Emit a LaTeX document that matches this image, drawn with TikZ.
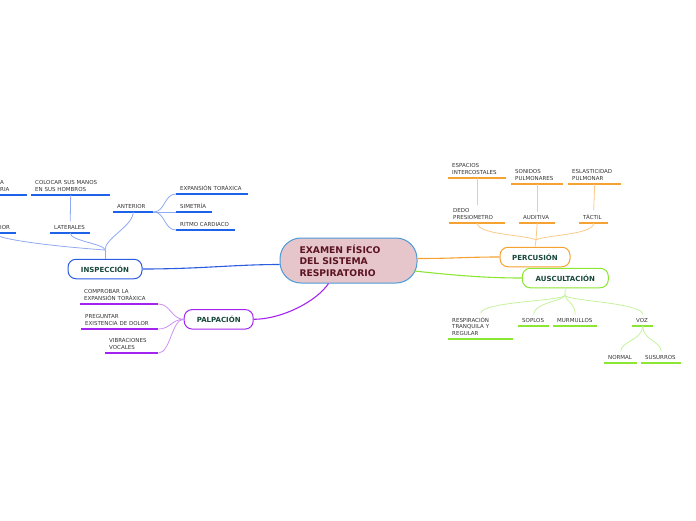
\documentclass[tikz,border=0pt]{standalone}
\usepackage{fontspec}
\setmainfont{DejaVu Sans}
\definecolor{mainblue}{HTML}{2A5CE0}
\definecolor{lineblue}{HTML}{1E62EA}
\definecolor{softblue}{HTML}{8EAAF2}
\definecolor{mainpurple}{HTML}{A324F0}
\definecolor{softpurple}{HTML}{CB92F4}
\definecolor{mainorange}{HTML}{F6A233}
\definecolor{softorange}{HTML}{F9CB8A}
\definecolor{maingreen}{HTML}{8CE634}
\definecolor{softgreen}{HTML}{C6F29E}
\definecolor{rootfill}{HTML}{E6C6CB}
\definecolor{rootline}{HTML}{4B9AD9}
\definecolor{roottext}{HTML}{5B1322}
\definecolor{branchtext}{HTML}{17483B}
\definecolor{leaftext}{HTML}{333333}
\tikzset{
  leaf/.style={anchor=south west, inner xsep=4pt, inner ysep=3.5pt, align=left,
    font=\fontsize{5.5}{6.5}\selectfont, text=leaftext,
    append after command={(\tikzlastnode.south west) edge[draw=#1, line width=1.4pt] (\tikzlastnode.south east)}},
  branch/.style={draw=#1, line width=1pt, fill=white, rounded corners=8pt, minimum height=19.5pt,
    inner xsep=11pt, font=\bfseries\fontsize{7}{8}\selectfont, text=branchtext},
}
\begin{document}
\begin{tikzpicture}[x=1pt, y=-1pt]
  \useasboundingbox (0,0) rectangle (696,520);
  \node[draw=rootline, line width=1pt, fill=rootfill, rounded corners=21pt, text width=98pt, inner xsep=19.5pt,
    minimum height=45pt, align=left, font=\bfseries\fontsize{9.2}{11.3}\selectfont, text=roottext]
    (examen) at (348.5,260.5) {EXAMEN FÍSICO\\DEL SISTEMA\\RESPIRATORIO};
  \node[branch=mainblue, minimum width=74pt] (insp) at (105,269) {INSPECCIÓN};
  \node[branch=mainpurple, minimum width=69pt] (palp) at (218.7,319.3) {PALPACIÓN};
  \node[branch=mainorange, minimum width=70pt] (perc) at (535,257) {PERCUSIÓN};
  \node[branch=maingreen, minimum width=86pt] (ausc) at (565.3,278) {AUSCULTACIÓN};

  \foreach \n/\x/\y/\w/\t in {fragA/-4/195/23/{A\\RIA}, posterior/-4/233/12/{IOR},
      colocar/31/195/71/{COLOCAR~SUS~MANOS\\EN~SUS~HOMBROS}, laterales/50/233/32/{LATERALES},
      anterior/113/212/32/{ANTERIOR}, expansion/176/194/64/{EXPANSIÓN~TORÁXICA},
      simetria/176/212/28/{SIMETRÍA}, ritmo/176/230/51/{RITMO~CARDIACO}} {
    \node[leaf=lineblue, text width=\w pt] (\n) at (\x,\y) {\t};
  }
  \foreach \n/\x/\y/\w/\t in {comprobar/80/304/70/{COMPROBAR~LA\\EXPANSIÓN~TORÁXICA},
      preguntar/81/329/69/{PREGUNTAR\\EXISTENCIA~DE~DOLOR}, vibraciones/105/353/45/{VIBRACIONES\\VOCALES}} {
    \node[leaf=mainpurple, text width=\w pt] (\n) at (\x,\y) {\t};
  }
  \foreach \n/\x/\y/\w/\t in {espacios/448/178/50/{ESPACIOS\\INTERCOSTALES},
      sonidos/511/184/44/{SONIDOS\\PULMONARES}, eslasticidad/568/184/45/{ESLASTICIDAD\\PULMONAR},
      dedo/449/223/48/{DEDO\\PRESIOMETRO}, auditiva/519/223/28/{AUDITIVA}, tactil/579/223/21/{TÁCTIL}} {
    \node[leaf=mainorange, text width=\w pt] (\n) at (\x,\y) {\t};
  }
  \foreach \n/\x/\y/\w/\t in {respiracion/448/339/57/{RESPIRACIÓN\\TRANQUILA~Y\\REGULAR},
      soplos/518/326/23/{SOPLOS}, murmullos/553/326/36/{MURMULLOS}, voz/632/326/13/{VOZ},
      normal/604/363/25/{NORMAL}, susurros/641/363/32/{SUSURROS}} {
    \node[leaf=maingreen, text width=\w pt] (\n) at (\x,\y) {\t};
  }

  \draw[mainblue, line width=1.1pt] (insp.east) .. controls (200,269) and (235,264.5) .. ([yshift=-4pt]examen.west);
  \draw[mainpurple, line width=1.1pt] (palp.east) .. controls +(28,0) and +(-12,18) .. ([xshift=-20pt]examen.south);
  \draw[mainorange, line width=1.1pt] ([yshift=2pt]examen.east) .. controls (455,258.5) and (465,257) .. (perc.west);
  \draw[maingreen, line width=1.1pt] ([shift={(-3pt,-10.5pt)}]examen.east) .. controls (460,276) and (490,278) .. (ausc.west);

  \coordinate (ijoin) at (105,250);
  \draw[softblue, line width=0.8pt] (colocar.south) -- (laterales.north);
  \draw[softblue, line width=0.8pt] (anterior.south) .. controls +(0,14) and +(0,-12) .. (ijoin);
  \draw[softblue, line width=0.8pt] (laterales.south) .. controls +(0,8) and +(0,-6) .. (ijoin);
  \draw[softblue, line width=0.8pt] ([xshift=-12pt]posterior.south) .. controls +(0,6) and (50,246) .. (ijoin);
  \draw[softblue, line width=0.8pt] (ijoin) -- (insp.north);
  \foreach \c in {expansion, simetria, ritmo}
    \draw[softblue, line width=0.8pt] (anterior.south east) .. controls +(12,0) and +(-12,0) .. (\c.south west);

  \foreach \c in {comprobar, preguntar, vibraciones}
    \draw[softpurple, line width=0.8pt] (palp.west) .. controls +(-12,0) and +(12,0) .. (\c.south east);

  \coordinate (pjoin) at (536,240);
  \draw[softorange, line width=0.8pt] (espacios.south) -- (dedo.north);
  \draw[softorange, line width=0.8pt] (sonidos.south) -- (auditiva.north);
  \draw[softorange, line width=0.8pt] (eslasticidad.south) -- (tactil.north);
  \draw[softorange, line width=0.8pt] (dedo.south) .. controls +(0,12) and +(-8,-5) .. (pjoin);
  \draw[softorange, line width=0.8pt] (tactil.south) .. controls +(0,12) and +(8,-5) .. (pjoin);
  \draw[softorange, line width=0.8pt] (auditiva.south) -- (pjoin) -- (perc.north);

  \coordinate (ajoin) at (565,295);
  \draw[softgreen, line width=0.8pt] (ausc.south) -- (ajoin);
  \foreach \c in {respiracion, soplos, murmullos, voz}
    \draw[softgreen, line width=0.8pt] (ajoin) .. controls +(0,6) and +(0,-12) .. (\c.north);
  \foreach \c in {normal, susurros}
    \draw[softgreen, line width=0.8pt] (voz.south) .. controls +(0,14) and +(0,-10) .. (\c.north);
\end{tikzpicture}
\end{document}
